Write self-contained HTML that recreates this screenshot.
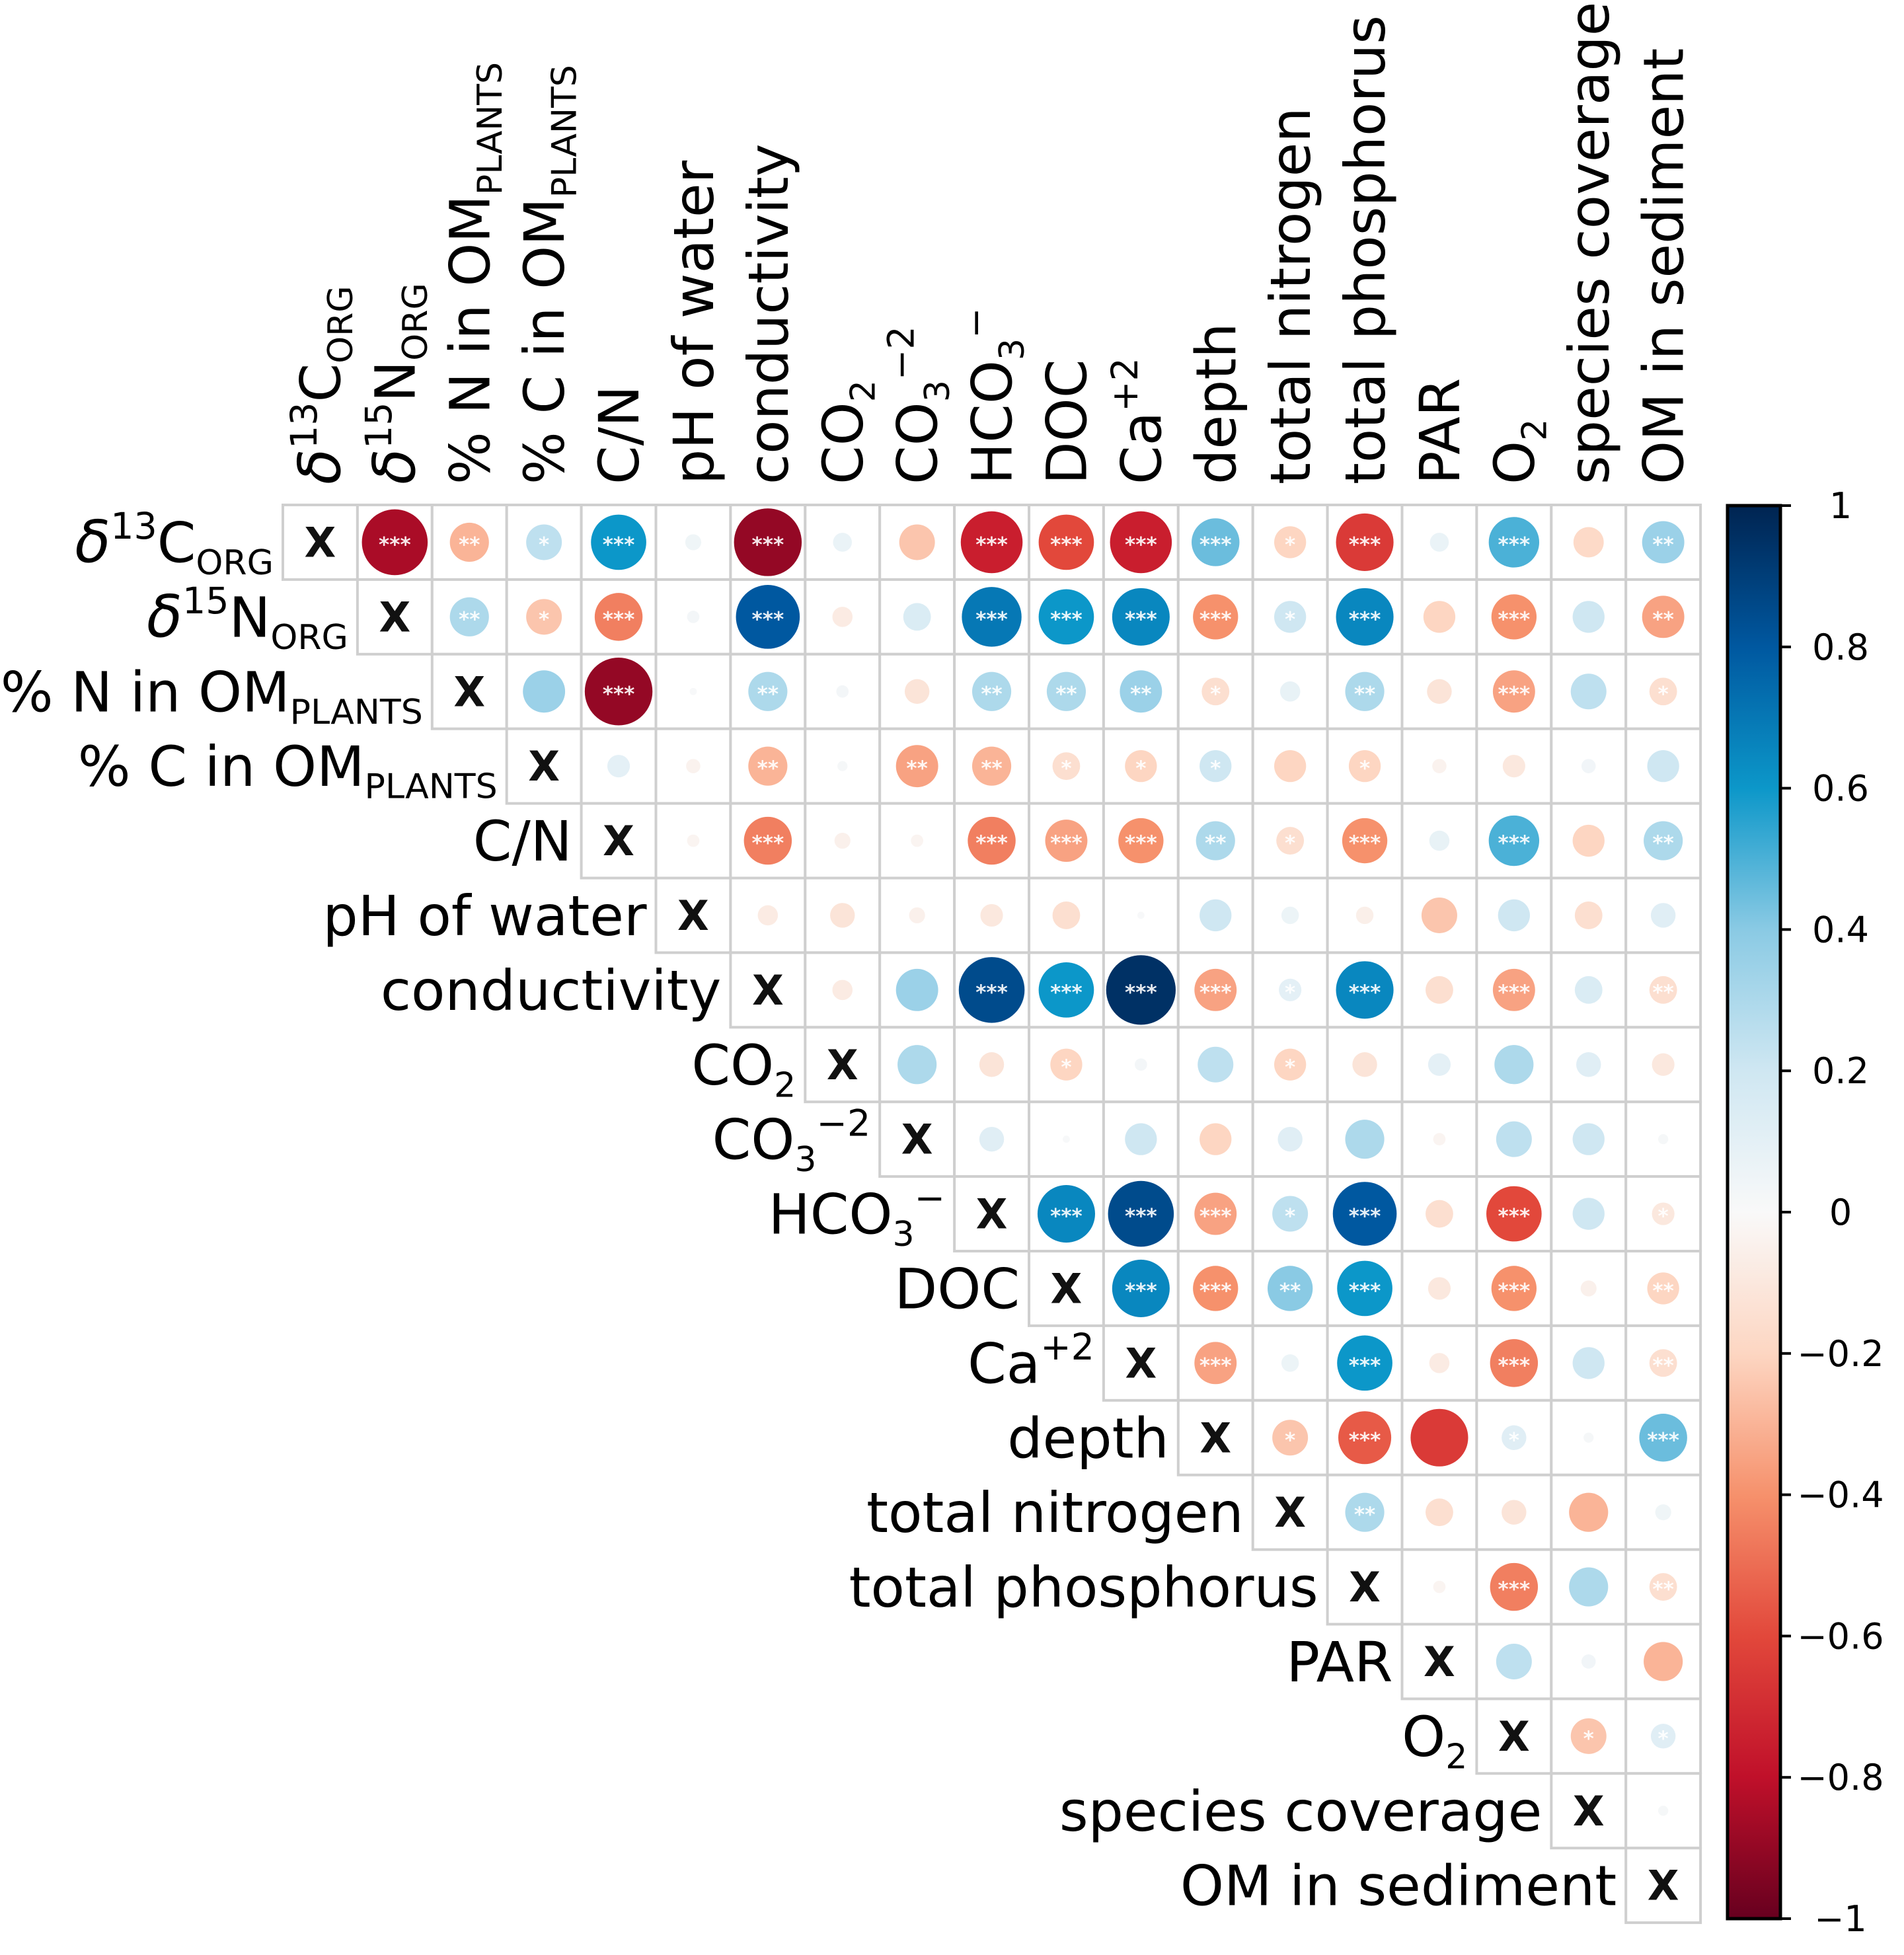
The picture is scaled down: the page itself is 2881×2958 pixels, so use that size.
<!DOCTYPE html>
<html><head><meta charset="utf-8"><style>
html,body{margin:0;padding:0;background:#fff;}
svg{display:block;}
text{font-family:"DejaVu Sans","Liberation Sans",sans-serif;}
</style></head><body>
<svg id="chart" width="2881" height="2958" viewBox="0 0 2881 2958" xmlns="http://www.w3.org/2000/svg">
<defs>
<linearGradient id="rdbu" x1="0" y1="0" x2="0" y2="1">
<stop offset="0" stop-color="#002451"/>
<stop offset="0.1" stop-color="#0058a0"/>
<stop offset="0.2" stop-color="#0c97c9"/>
<stop offset="0.3" stop-color="#8acae4"/>
<stop offset="0.4" stop-color="#cfe7f2"/>
<stop offset="0.5" stop-color="#f9f9f9"/>
<stop offset="0.6" stop-color="#fdd6c2"/>
<stop offset="0.7" stop-color="#f6916c"/>
<stop offset="0.8" stop-color="#e2483b"/>
<stop offset="0.9" stop-color="#c0102a"/>
<stop offset="1" stop-color="#67001f"/>
</linearGradient>
</defs>
<g id="grid"></g>
<g id="rowlabels"></g>
<g id="collabels"></g>
<g id="cbar"></g>
</svg>
<script>
// variable labels as [text, kind] segments
const labels = [
 [["δ","d"],["13","sup"],["C","n"],["ORG","sub"]],
 [["δ","d"],["15","sup"],["N","n"],["ORG","sub"]],
 [["% N in OM","n"],["PLANTS","sub"]],
 [["% C in OM","n"],["PLANTS","sub"]],
 [["C/N","n"]],
 [["pH of water","n"]],
 [["conductivity","n"]],
 [["CO","n"],["2","sub"]],
 [["CO","n"],["3","sub"],["−2","sup"]],
 [["HCO","n"],["3","sub"],["−","sup"]],
 [["DOC","n"]],
 [["Ca","n"],["+2","sup"]],
 [["depth","n"]],
 [["total nitrogen","n"]],
 [["total phosphorus","n"]],
 [["PAR","n"]],
 [["O","n"],["2","sub"]],
 [["species coverage","n"]],
 [["OM in sediment","n"]]
];
// upper-triangle correlations, row i starts at column i+1
const corrRows = [
 [-0.85,-0.3,0.25,0.6,0.05,-0.9,0.07,-0.25,-0.75,-0.6,-0.75,0.45,-0.2,-0.65,0.07,0.5,-0.18,0.35],
 [0.3,-0.25,-0.45,0.03,0.8,-0.08,0.15,0.7,0.6,0.65,-0.4,0.2,0.65,-0.2,-0.4,0.2,-0.35],
 [0.35,-0.9,0.01,0.3,0.03,-0.12,0.3,0.3,0.35,-0.15,0.08,0.3,-0.12,-0.35,0.25,-0.15],
 [0.1,-0.04,-0.3,0.02,-0.35,-0.3,-0.15,-0.2,0.2,-0.2,-0.2,-0.04,-0.1,0.04,0.2],
 [-0.03,-0.45,-0.05,-0.03,-0.45,-0.35,-0.4,0.3,-0.15,-0.4,0.08,0.5,-0.2,0.3],
 [-0.08,-0.12,-0.05,-0.1,-0.15,0.01,0.2,0.06,-0.06,-0.25,0.2,-0.15,0.12],
 [-0.08,0.35,0.85,0.6,0.95,-0.35,0.1,0.65,-0.15,-0.35,0.15,-0.15],
 [0.3,-0.12,-0.2,0.03,0.25,-0.2,-0.12,0.1,0.3,0.12,-0.1],
 [0.12,0.01,0.2,-0.2,0.12,0.3,-0.03,0.25,0.2,0.02],
 [0.65,0.85,-0.35,0.25,0.8,-0.15,-0.6,0.2,-0.1],
 [0.65,-0.4,0.4,0.6,-0.1,-0.4,-0.05,-0.2],
 [-0.35,0.06,0.6,-0.08,-0.45,0.2,-0.15],
 [-0.25,-0.55,-0.65,0.12,0.02,0.45],
 [0.3,-0.15,-0.12,-0.3,0.05],
 [-0.03,-0.45,0.3,-0.15],
 [0.25,0.04,-0.3],
 [-0.25,0.12],
 [0.02]
];
// significance stars per cell (same layout)
const sigRows = [
 ["***","**","*","***","","***","","","***","***","***","***","*","***","","***","","**"],
 ["**","*","***","","***","","","***","***","***","***","*","***","","***","","**"],
 ["","***","","**","","","**","**","**","*","","**","","***","","*"],
 ["","","**","","**","**","*","*","*","","*","","","",""],
 ["","***","","","***","***","***","**","*","***","","***","","**"],
 ["","","","","","","","","","","","",""],
 ["","","***","***","***","***","*","***","","***","","**"],
 ["","","*","","","*","","","","",""],
 ["","","","","","","","","",""],
 ["***","***","***","*","***","","***","","*"],
 ["***","***","**","***","","***","","**"],
 ["***","","***","","***","","**"],
 ["*","***","","*","","***"],
 ["**","","","",""],
 ["","***","","**"],
 ["","",""],
 ["*","*"],
 [""]
];
const cbTicks = [1,0.8,0.6,0.4,0.2,0,-0.2,-0.4,-0.6,-0.8,-1];

const NS="http://www.w3.org/2000/svg";
const N = labels.length;
const X0=428, Y0=764, CELL=112.9;
const CB_X=2614, CB_W=80, CB_TOP=765, CB_BOT=2903;
const xCol = j => X0 + CELL*j;
const yRow = i => Y0 + CELL*i;
const rScale = v => Math.sqrt(Math.abs(v))*54;
const yCb = v => CB_TOP + (1-v)/2*(CB_BOT-CB_TOP);
const stops=[[-1,[103,0,31]],[-0.8,[192,16,42]],[-0.6,[226,72,59]],[-0.4,[246,145,108]],[-0.2,[253,214,194]],[0,[249,249,249]],[0.2,[207,231,242]],[0.4,[138,202,228]],[0.6,[12,151,201]],[0.8,[0,88,160]],[1,[0,36,81]]];
function color(v){
  for(let k=0;k<stops.length-1;k++){
    const a=stops[k],b=stops[k+1];
    if(v>=a[0]&&v<=b[0]){const t=(v-a[0])/(b[0]-a[0]);
      return "rgb("+a[1].map((c,m)=>Math.round(c+(b[1][m]-c)*t)).join(",")+")";}
  }
  return "#f9f9f9";
}
function mk(tag,attrs,parent){const e=document.createElementNS(NS,tag);for(const k in attrs)e.setAttribute(k,attrs[k]);parent.appendChild(e);return e;}
function fillLabel(t,segs,fs){
  let cur=0;
  segs.forEach(s=>{
    const ts=document.createElementNS(NS,"tspan");
    let target=0,size=fs;
    if(s[1]==="sub"){target=fs*0.22;size=fs*0.62;}
    if(s[1]==="sup"){target=-fs*0.42;size=fs*0.66;}
    if(s[1]==="d"){ts.setAttribute("font-style","italic");size=fs*1.05;}
    ts.setAttribute("dy",(target-cur).toFixed(1));
    ts.setAttribute("font-size",size.toFixed(1));
    ts.textContent=s[0];
    cur=target;
    t.appendChild(ts);
  });
}
const grid=document.getElementById("grid");
for(let i=0;i<N;i++){
  for(let j=i;j<N;j++){
    const r=mk("rect",{x:xCol(j),y:yRow(i),width:CELL,height:CELL,fill:"#fff",stroke:"#cfcfcf","stroke-width":4},grid);
    
    
  }
}
for(let i=0;i<N;i++){
  const cx=xCol(i)+CELL/2, cy=yRow(i)+CELL/2;
  const x=mk("text",{x:cx,y:cy+22,"text-anchor":"middle","font-size":62,"font-weight":"bold",fill:"#111"},grid);
  
  
  x.textContent="X";
  const vals=corrRows[i]||[];
  vals.forEach((v,k)=>{
    const j=i+1+k;
    const ccx=xCol(j)+CELL/2;
    const c=mk("circle",{cx:ccx,cy:cy,r:rScale(v),fill:color(v)},grid);
    
    
    const s=sigRows[i][k];
    if(s){
      const st=mk("text",{x:ccx,y:cy+14,"text-anchor":"middle","font-size":31,"font-weight":"bold",fill:"#fff","fill-opacity":0.9},grid);
      
      
      st.textContent=s;
    }
  });
}
const rl=document.getElementById("rowlabels");
labels.forEach((segs,i)=>{
  const t=mk("text",{x:xCol(i)-14,y:yRow(i)+CELL/2+30,"text-anchor":"end",fill:"#000"},rl);
  
  
  fillLabel(t,segs,84);
});
const cl=document.getElementById("collabels");
labels.forEach((segs,j)=>{
  const cx=xCol(j)+CELL/2+30;
  const t=mk("text",{x:0,y:0,"text-anchor":"start",fill:"#000",transform:"translate("+cx.toFixed(1)+",733) rotate(-90)"},cl);
  
  
  fillLabel(t,segs,84);
});
const cb=document.getElementById("cbar");
const bar=mk("rect",{x:CB_X,y:CB_TOP,width:CB_W,height:CB_BOT-CB_TOP,fill:"url(#rdbu)",stroke:"#000","stroke-width":5},cb);


cbTicks.forEach(v=>{
  const y=yCb(v);
  const tk=mk("line",{x1:CB_X+CB_W,x2:CB_X+CB_W+16,y1:y,y2:y,stroke:"#000","stroke-width":4},cb);
  
  
  const lb=mk("text",{x:2785,y:y+19,"text-anchor":"middle","font-size":54,fill:"#000"},cb);
  
  
  lb.textContent=(v<0?"−":"")+String(Math.abs(v));
});
</script>
</body></html>
